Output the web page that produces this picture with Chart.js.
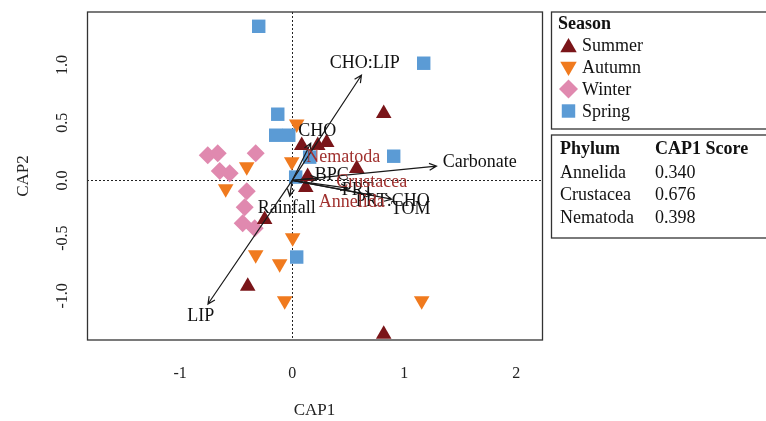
<!DOCTYPE html>
<html>
<head>
<meta charset="utf-8">
<script src="https://cdn.jsdelivr.net/npm/chart.js@4.4.1/dist/chart.umd.min.js"></script>
<style>
  html, body { margin: 0; padding: 0; background: #fff; overflow: hidden; }
  canvas { display: block; }
</style>
</head>
<body>
<canvas id="chart" width="766" height="421"></canvas>
<script>
// sample scores (CAP1, CAP2) per season
const summerX = [0.817, 0.085, 0.228, 0.308, 0.576, 0.138, 0.121, -0.246, -0.397, 0.817];
const summerY = [0.580, 0.303, 0.303, 0.329, 0.104, 0.035, -0.061, -0.338, -0.918, -1.334];
const autumnX = [0.040, -0.004, -0.406, -0.594, 0.004, -0.326, -0.112, -0.067, 1.156];
const autumnY = [0.490, 0.161, 0.118, -0.073, -0.497, -0.644, -0.722, -1.043, -1.043];
const winterX = [-0.754, -0.665, -0.326, -0.647, -0.558, -0.406, -0.424, -0.442, -0.335];
const winterY = [0.219, 0.236, 0.236, 0.081, 0.063, -0.093, -0.232, -0.370, -0.414];
const springX = [-0.299, 1.174, -0.129, -0.147, -0.031, 0.906, 0.156, 0.031, 0.040];
const springY = [1.336, 1.016, 0.574, 0.392, 0.392, 0.210, 0.202, 0.029, -0.664];

// environmental vectors (arrow tips) and their label spots
const vecNames = ['CHO:LIP', 'LIP', 'Carbonate', 'CHO', 'BPC', 'Rainfall', 'PRT', 'PRT:CHO', 'TOM'];
const vecX = [0.618, -0.752, 1.288, 0.165, 0.228, -0.022, 0.496, 0.710, 0.888];
const vecY = [0.912, -1.071, 0.124, 0.323, 0.020, -0.136, -0.067, -0.127, -0.162];
const vecLabelX = [0.647, -0.817, 1.674, 0.223, 0.353, -0.049, 0.585, 0.897, 1.058];
const vecLabelY = [1.016, -1.179, 0.156, 0.427, 0.046, -0.240, -0.084, -0.179, -0.248];

// phyla
const phyla = ['Annelida', 'Crustacea', 'Nematoda'];
const phylumScore = [0.340, 0.676, 0.398];
const phylumLabelX = [0.531, 0.710, 0.455];
const phylumLabelY = [-0.188, -0.015, 0.202];

const seasons = ['Summer', 'Autumn', 'Winter', 'Spring'];
const xTicks = [-1, 0, 1, 2];
const yTicks = [-1.0, -0.5, 0.0, 0.5, 1.0];

const FONT = '"Liberation Serif", "Times New Roman", serif';
const COLORS = { Summer: '#7A1519', Autumn: '#F07A1E', Winter: '#E089AF', Spring: '#5B9BD5' };
const SHAPES = { Summer: 'up', Autumn: 'down', Winter: 'diamond', Spring: 'square' };

const pts = (xs, ys) => xs.map((v, i) => ({ x: v, y: ys[i] }));

const drawMarker = (ctx, shape, x, y, r, color) => {
  ctx.fillStyle = color;
  ctx.beginPath();
  if (shape === 'up') {
    ctx.moveTo(x, y - r); ctx.lineTo(x + 0.866 * r, y + 0.5 * r); ctx.lineTo(x - 0.866 * r, y + 0.5 * r);
  } else if (shape === 'down') {
    ctx.moveTo(x, y + r); ctx.lineTo(x + 0.866 * r, y - 0.5 * r); ctx.lineTo(x - 0.866 * r, y - 0.5 * r);
  } else if (shape === 'diamond') {
    ctx.moveTo(x - r, y); ctx.lineTo(x, y - r); ctx.lineTo(x + r, y); ctx.lineTo(x, y + r);
  } else {
    const s = r * Math.SQRT1_2;
    ctx.rect(x - s, y - s, 2 * s, 2 * s);
  }
  ctx.closePath();
  ctx.fill();
};

const drawArrow = (ctx, x1, y1, x2, y2) => {
  const ang = Math.atan2(y2 - y1, x2 - x1);
  const len = 8;
  ctx.beginPath();
  ctx.moveTo(x1, y1);
  ctx.lineTo(x2, y2);
  ctx.moveTo(x2 - len * Math.cos(ang - 0.45), y2 - len * Math.sin(ang - 0.45));
  ctx.lineTo(x2, y2);
  ctx.lineTo(x2 - len * Math.cos(ang + 0.45), y2 - len * Math.sin(ang + 0.45));
  ctx.stroke();
};

const overlayPlugin = {
  id: 'overlay',
  beforeDatasetsDraw(chart) {
    const { ctx, chartArea: a, scales: { x, y } } = chart;
    const x0 = Math.round(x.getPixelForValue(0)) + 0.5;
    const y0 = Math.round(y.getPixelForValue(0)) + 0.5;
    ctx.save();
    ctx.setLineDash([2, 2]);
    ctx.strokeStyle = '#222';
    ctx.lineWidth = 1;
    ctx.beginPath();
    ctx.moveTo(x0, a.top); ctx.lineTo(x0, a.bottom);
    ctx.moveTo(a.left, y0); ctx.lineTo(a.right, y0);
    ctx.stroke();
    ctx.restore();
  },
  afterDatasetsDraw(chart) {
    const { ctx, chartArea: a, scales: { x, y } } = chart;
    const ox = x.getPixelForValue(0), oy = y.getPixelForValue(0);
    ctx.save();
    ctx.strokeStyle = '#1a1a1a';
    ctx.lineWidth = 1.2;
    vecNames.forEach((n, i) => {
      drawArrow(ctx, ox, oy, x.getPixelForValue(vecX[i]), y.getPixelForValue(vecY[i]));
    });
    ctx.font = '18px ' + FONT;
    ctx.textAlign = 'center';
    ctx.textBaseline = 'middle';
    ctx.fillStyle = '#111';
    vecNames.forEach((n, i) => {
      ctx.fillText(n, x.getPixelForValue(vecLabelX[i]), y.getPixelForValue(vecLabelY[i]));
    });
    ctx.fillStyle = '#A0302E';
    phyla.forEach((n, i) => {
      ctx.fillText(n, x.getPixelForValue(phylumLabelX[i]), y.getPixelForValue(phylumLabelY[i]));
    });
    // frame
    ctx.strokeStyle = '#333';
    ctx.lineWidth = 1.3;
    ctx.strokeRect(a.left + 0.5, a.top, a.right - a.left, a.bottom - a.top);
    ctx.restore();
  },
  afterDraw(chart) {
    const { ctx } = chart;
    ctx.save();
    ctx.strokeStyle = '#333';
    ctx.lineWidth = 1.3;
    ctx.strokeRect(551.5, 12, 300, 117);
    ctx.strokeRect(551.5, 135, 300, 103);
    ctx.fillStyle = '#111';
    ctx.textBaseline = 'middle';
    ctx.textAlign = 'left';
    ctx.font = 'bold 18px ' + FONT;
    ctx.fillText('Season', 558, 24);
    ctx.font = '18px ' + FONT;
    const markerY = [45.5, 68.5, 89, 111];
    seasons.forEach((s, i) => {
      drawMarker(ctx, SHAPES[s], 568.5, markerY[i] + (s === 'Summer' ? 2 : s === 'Autumn' ? -2 : 0), 9.5, COLORS[s]);
      ctx.fillStyle = '#111';
      ctx.fillText(s, 582, 46 + i * 22);
    });
    ctx.font = 'bold 18px ' + FONT;
    ctx.fillText('Phylum', 560, 149);
    ctx.fillText('CAP1 Score', 655, 149);
    ctx.font = '18px ' + FONT;
    phyla.forEach((p, i) => {
      ctx.fillText(p, 560, 173 + i * 22.5);
      ctx.fillText(phylumScore[i].toFixed(3), 655, 173 + i * 22.5);
    });
    ctx.restore();
  }
};

const makeSet = (label, xs, ys, style, rotation, radius, order) => ({
  label,
  data: pts(xs, ys),
  pointStyle: style,
  pointRotation: rotation,
  pointRadius: radius,
  pointBackgroundColor: COLORS[label],
  pointBorderWidth: 0,
  borderWidth: 0,
  showLine: false,
  order
});

new Chart(document.getElementById('chart'), {
  type: 'scatter',
  data: {
    datasets: [
      makeSet('Summer', summerX, summerY, 'triangle', 0, 9, 0),
      makeSet('Spring', springX, springY, 'rect', 0, 9.5, 1),
      makeSet('Autumn', autumnX, autumnY, 'triangle', 180, 9, 2),
      makeSet('Winter', winterX, winterY, 'rectRot', 0, 9, 3)
    ]
  },
  plugins: [overlayPlugin],
  options: {
    responsive: false,
    animation: false,
    devicePixelRatio: 1,
    events: [],
    layout: { padding: { top: 12, right: 224, left: 0, bottom: 0 } },
    plugins: { legend: { display: false }, tooltip: { enabled: false } },
    scales: {
      x: {
        type: 'linear',
        min: -1.832,
        max: 2.230,
        afterFit: s => { s.height = 81; s.paddingLeft = 0; s.paddingRight = 0; },
        afterBuildTicks: s => { s.ticks = xTicks.map(v => ({ value: v })); },
        grid: { display: false },
        border: { display: false },
        ticks: {
          font: { family: FONT, size: 16 },
          color: '#222',
          padding: 16,
          callback: v => String(v)
        },
        title: {
          display: true,
          text: 'CAP1',
          font: { family: FONT, size: 17 },
          color: '#222',
          padding: { top: 0, bottom: 0 }
        }
      },
      y: {
        type: 'linear',
        min: -1.383,
        max: 1.46,
        afterFit: s => { s.width = 87; s.paddingTop = 0; s.paddingBottom = 0; },
        afterBuildTicks: s => { s.ticks = yTicks.map(v => ({ value: v })); },
        grid: { display: false },
        border: { display: false },
        ticks: {
          font: { family: FONT, size: 16 },
          color: '#222',
          minRotation: 90,
          maxRotation: 90,
          crossAlign: 'center',
          padding: 4,
          callback: v => v.toFixed(1)
        },
        title: {
          display: true,
          text: 'CAP2',
          font: { family: FONT, size: 17 },
          color: '#222',
          padding: { top: 13, bottom: 0 }
        }
      }
    }
  }
});
</script>
</body>
</html>
